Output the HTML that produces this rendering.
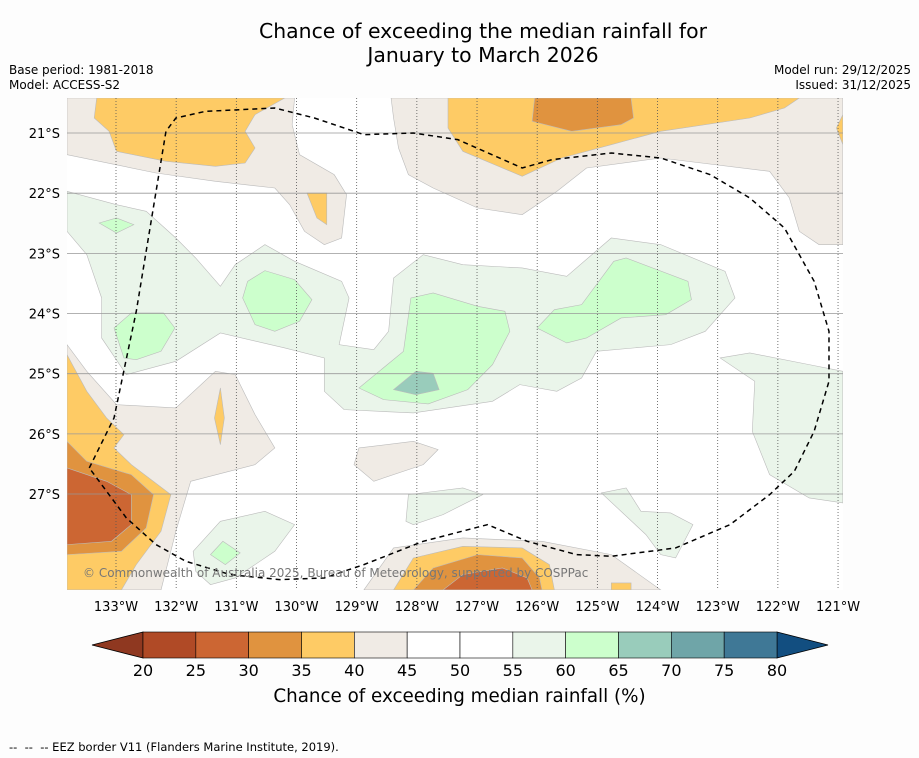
<!DOCTYPE html>
<html><head><meta charset="utf-8"><style>
body{margin:0;background:#fdfdfd;font-family:"DejaVu Sans","Liberation Sans",sans-serif;}
#c{position:relative;width:919px;height:758px;overflow:hidden;background:#fdfdfd}
.t{position:absolute;white-space:nowrap;color:#000}
</style></head><body>
<div id="c">
<div class="t" style="left:47px;width:872px;top:19px;text-align:center;font-size:20.4px;line-height:24px">Chance of exceeding the median rainfall for<br>January to March 2026</div>
<div class="t" style="left:9px;top:63px;font-size:12px;line-height:15px">Base period: 1981-2018<br>Model: ACCESS-S2</div>
<div class="t" style="right:8px;top:63px;font-size:12px;line-height:15px;text-align:right">Model run: 29/12/2025<br>Issued: 31/12/2025</div>
<svg id="s" width="919" height="758" style="position:absolute;left:0;top:0">
<defs><clipPath id="mc"><rect x="67" y="98" width="776" height="492"/></clipPath></defs>
<g clip-path="url(#mc)">
<rect x="67" y="98" width="776" height="492" fill="#ffffff"/>
<g transform="translate(67,98) scale(0.4948,0.3333)" stroke="#bbb" stroke-width="0.6">
<path vector-effect="non-scaling-stroke" fill="#f0ebe5" d="M0,0 L460,0 L455,80 L470,170 L540,230 L565,290 L555,420 L520,440 L480,400 L450,320 L420,270 L300,250 L180,225 L0,170 Z"/>
<path vector-effect="non-scaling-stroke" fill="#fecb65" d="M60,0 L440,0 L380,50 L360,100 L380,150 L360,195 L300,205 L200,190 L100,160 L85,100 L55,60 Z"/>
<path vector-effect="non-scaling-stroke" fill="#fecb65" d="M485,285 L525,285 L525,380 L505,360 Z"/>
<path vector-effect="non-scaling-stroke" fill="#f0ebe5" d="M655,0 L1568,0 L1568,440 L1520,440 L1480,400 L1460,300 L1420,220 L1200,180 L1050,210 L990,280 L920,350 L830,330 L740,270 L690,230 L670,150 L660,60 Z"/>
<path vector-effect="non-scaling-stroke" fill="#fecb65" d="M770,0 L1480,0 L1450,30 L1380,60 L1200,100 L1100,140 L1000,180 L920,235 L880,210 L800,160 L770,90 Z"/>
<path vector-effect="non-scaling-stroke" fill="#e0933f" d="M945,0 L1140,0 L1145,60 L1120,80 L1020,100 L940,70 Z"/>
<path vector-effect="non-scaling-stroke" fill="#fecb65" d="M1568,50 L1555,90 L1568,140 Z"/>
<path vector-effect="non-scaling-stroke" fill="#f0ebe5" d="M0,740 L40,820 L100,920 L220,930 L300,820 L340,830 L380,950 L420,1050 L380,1100 L250,1150 L220,1300 L190,1476 L0,1476 Z"/>
<path vector-effect="non-scaling-stroke" fill="#fecb65" d="M0,770 L40,880 L80,960 L115,1010 L95,1050 L130,1100 L210,1190 L190,1300 L140,1400 L110,1476 L0,1476 Z"/>
<path vector-effect="non-scaling-stroke" fill="#e0933f" d="M0,1030 L40,1090 L130,1130 L175,1190 L160,1290 L110,1360 L0,1370 Z"/>
<path vector-effect="non-scaling-stroke" fill="#cc6633" d="M0,1110 L80,1150 L130,1190 L130,1280 L90,1330 L0,1340 Z"/>
<path vector-effect="non-scaling-stroke" fill="#fecb65" d="M310,870 L318,960 L310,1040 L298,960 Z"/>
<path vector-effect="non-scaling-stroke" fill="#f0ebe5" d="M600,1476 L660,1350 L800,1320 L960,1330 L1100,1370 L1200,1476 Z"/>
<path vector-effect="non-scaling-stroke" fill="#fecb65" d="M660,1476 L700,1380 L800,1345 L920,1350 L975,1400 L985,1476 Z"/>
<path vector-effect="non-scaling-stroke" fill="#e0933f" d="M700,1476 L740,1410 L830,1370 L920,1380 L955,1440 L960,1476 Z"/>
<path vector-effect="non-scaling-stroke" fill="#cc6633" d="M760,1476 L800,1430 L880,1410 L930,1440 L940,1476 Z"/>
<path vector-effect="non-scaling-stroke" fill="#fecb65" d="M1100,1455 L1140,1455 L1140,1476 L1100,1476 Z"/>
<path vector-effect="non-scaling-stroke" fill="#f0ebe5" d="M590,1050 L700,1030 L750,1055 L720,1100 L620,1150 L580,1100 Z"/>
<path vector-effect="non-scaling-stroke" fill="#eaf5ea" d="M0,280 L100,320 L160,340 L220,420 L260,480 L310,565 L340,500 L400,440 L460,490 L555,550 L570,600 L550,740 L620,755 L650,700 L660,540 L720,470 L800,500 L920,510 L1010,535 L1100,420 L1200,440 L1330,520 L1350,600 L1290,700 L1220,740 L1070,760 L1040,840 L990,880 L915,860 L860,910 L700,945 L560,935 L520,880 L520,780 L440,750 L310,705 L220,790 L120,830 L70,720 L70,600 L40,470 L0,400 Z"/>
<path vector-effect="non-scaling-stroke" fill="#eaf5ea" d="M1320,780 L1380,765 L1500,800 L1568,820 L1568,1215 L1500,1200 L1420,1130 L1385,1000 L1390,850 Z"/>
<path vector-effect="non-scaling-stroke" fill="#eaf5ea" d="M255,1360 L310,1270 L400,1240 L460,1280 L420,1360 L340,1440 L290,1460 L260,1420 Z"/>
<path vector-effect="non-scaling-stroke" fill="#eaf5ea" d="M690,1190 L800,1170 L840,1190 L760,1250 L700,1280 L685,1270 Z"/>
<path vector-effect="non-scaling-stroke" fill="#eaf5ea" d="M1080,1185 L1130,1170 L1160,1240 L1220,1245 L1265,1280 L1230,1380 L1200,1370 L1170,1310 Z"/>
<path vector-effect="non-scaling-stroke" fill="#ccffcc" d="M65,375 L100,360 L135,380 L100,405 Z"/>
<path vector-effect="non-scaling-stroke" fill="#ccffcc" d="M95,690 L130,645 L195,645 L218,690 L190,760 L140,785 L115,780 Z"/>
<path vector-effect="non-scaling-stroke" fill="#ccffcc" d="M355,600 L365,550 L400,518 L460,545 L495,605 L470,670 L420,700 L380,680 Z"/>
<path vector-effect="non-scaling-stroke" fill="#ccffcc" d="M590,870 L680,760 L695,600 L740,585 L830,625 L885,640 L895,700 L860,800 L810,875 L730,918 L640,905 Z"/>
<path vector-effect="non-scaling-stroke" fill="#ccffcc" d="M950,690 L985,635 L1040,620 L1105,490 L1130,480 L1255,550 L1262,605 L1210,650 L1120,660 L1050,720 L1010,735 Z"/>
<path vector-effect="non-scaling-stroke" fill="#ccffcc" d="M290,1370 L315,1330 L350,1365 L320,1400 Z"/>
<path vector-effect="non-scaling-stroke" fill="#99ccbb" d="M660,875 L705,820 L740,826 L752,875 L705,890 Z"/>
</g>
<g id="grid"></g>
<path transform="translate(67,98) scale(0.4948,0.3333)" fill="none" stroke="#000" stroke-width="1.5" stroke-dasharray="5,4" vector-effect="non-scaling-stroke" d="M45,1110 L95,960 L140,640 L200,100 L220,60 L280,40 L420,30 L500,60 L600,110 L700,105 L790,125 L920,210 L980,185 L1100,165 L1200,180 L1300,230 L1380,300 L1450,390 L1510,550 L1540,700 L1540,850 L1510,1000 L1470,1120 L1420,1190 L1340,1280 L1230,1350 L1100,1375 L1030,1370 L930,1330 L850,1280 L720,1330 L600,1400 L520,1440 L430,1445 L330,1430 L240,1390 L180,1340 L120,1260 L80,1180 Z"/>
<text x="83" y="577" font-size="12" fill="#777" font-family="DejaVu Sans">© Commonwealth of Australia 2025, Bureau of Meteorology, supported by COSPPac</text>
</g>
<g id="axes"></g>
<g id="cbar"></g>
</svg>
<div class="t" style="left:0;width:919px;top:686px;text-align:center;font-size:18.3px">Chance of exceeding median rainfall (%)</div>
<div class="t" style="left:9px;top:740px;font-size:11.5px">-- &nbsp;-- &nbsp;-- EEZ border V11 (Flanders Marine Institute, 2019).</div>
</div>
<script>
const lonTicks=[133,132,131,130,129,128,127,126,125,124,123,122,121];
const latTicks=[21,22,23,24,25,26,27];
const levels=[20,25,30,35,40,45,50,55,60,65,70,75,80];
const levelColors=["#b04a26","#cc6633","#e0933f","#fecb65","#f0ebe5","#ffffff","#ffffff","#eaf5ea","#ccffcc","#99ccbb","#6fa5a8","#3f7896"];
const NS="http://www.w3.org/2000/svg";
const xLon=l=>116+(133-l)*60.17;
const yLat=l=>133+(l-21)*60.17;
const xLev=v=>143+(v-20)*(777-143)/60;
function mk(tag,attrs,parent){const e=document.createElementNS(NS,tag);for(const k in attrs)e.setAttribute(k,attrs[k]);parent.appendChild(e);return e;}
const grid=document.getElementById('grid'),axes=document.getElementById('axes'),cb=document.getElementById('cbar');
lonTicks.forEach(l=>{const x=xLon(l);
 const ln=mk('line',{x1:x,x2:x,y1:98,y2:590,stroke:'#555','stroke-width':0.8,'stroke-dasharray':'1,2'},grid);
 
 
 const t=mk('text',{x:x,y:611,'font-size':13,'text-anchor':'middle','font-family':'DejaVu Sans'},axes);t.textContent=l+'°W';
 
 });
latTicks.forEach(l=>{const y=yLat(l);
 const ln=mk('line',{x1:67,x2:843,y1:y,y2:y,stroke:'#999','stroke-width':0.8},grid);
 
 
 const t=mk('text',{x:60,y:y+5,'font-size':13,'text-anchor':'end','font-family':'DejaVu Sans'},axes);t.textContent=l+'°S';
 
 });
const y0=632,y1=658;
const lt=mk('polygon',{points:`${xLev(20)},${y0} ${xLev(20)},${y1} 92,${(y0+y1)/2}`,fill:'#8f3820',stroke:'#000','stroke-width':0.8},cb);


const rt=mk('polygon',{points:`${xLev(80)},${y0} ${xLev(80)},${y1} 828,${(y0+y1)/2}`,fill:'#124e80',stroke:'#000','stroke-width':0.8},cb);


for(let i=0;i<levelColors.length;i++){
 const r=mk('rect',{x:xLev(levels[i]),y:y0,width:xLev(levels[i+1])-xLev(levels[i]),height:y1-y0,fill:levelColors[i],stroke:'#000','stroke-width':0.6},cb);
 
 }
levels.forEach(v=>{const t=mk('text',{x:xLev(v),y:676,'font-size':16,'text-anchor':'middle','font-family':'DejaVu Sans'},cb);t.textContent=v;
 
 });
</script>
</body></html>
